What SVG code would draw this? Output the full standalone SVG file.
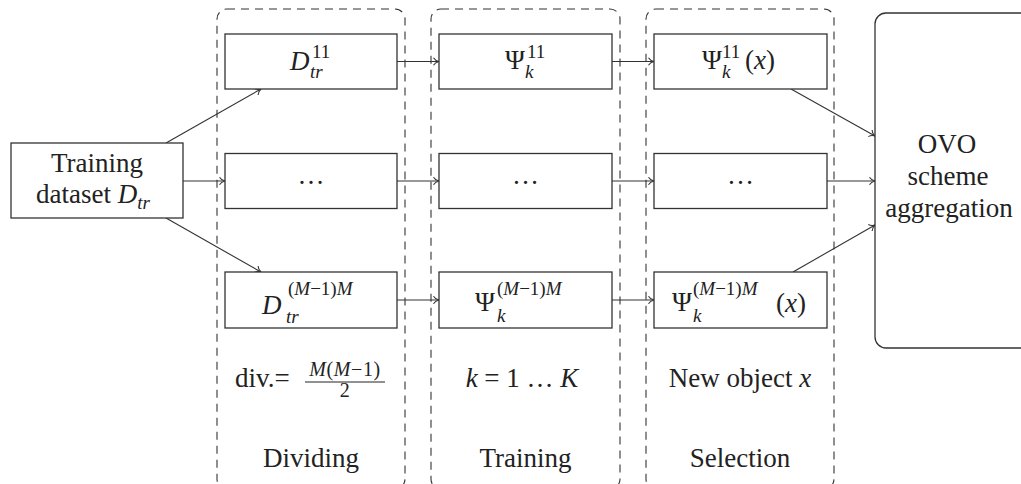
<svg xmlns="http://www.w3.org/2000/svg" width="1021" height="484" viewBox="0 0 1021 484">
<style>
  .box{fill:#fff;stroke:#333;stroke-width:1.3}
  .grp{fill:none;stroke:#333;stroke-width:1.1;stroke-dasharray:8 6}
  .t{font-family:'Liberation Serif','DejaVu Serif',serif;font-size:27px;fill:#222}
  .s{font-size:19px}
  .f{font-size:20px;letter-spacing:0.6px}
  .i{font-style:italic}
  .c{text-anchor:middle}
  .ln{fill:none;stroke:#333;stroke-width:1.1;marker-end:url(#arr)}
</style>
<defs>
  <marker id="arr" markerUnits="userSpaceOnUse" markerWidth="12" markerHeight="12" viewBox="-7 -6 8 12" refX="0" refY="0" orient="auto">
    <path d="M-5.5,-3.8 C-4.2,-1.6 -1.8,-0.4 0,0 C-1.8,0.4 -4.2,1.6 -5.5,3.8" fill="none" stroke="#333" stroke-width="1.1"/>
  </marker>
</defs>

<g id="groups">
  <rect id="group-dividing" class="grp" x="217" y="9" width="188" height="480" rx="10"/>
  <rect id="group-training" class="grp" x="431" y="9" width="189" height="480" rx="10"/>
  <rect id="group-selection" class="grp" x="646" y="9" width="188" height="480" rx="10"/>
</g>

<g id="connectors">
  <line class="ln" x1="166" y1="143" x2="261" y2="89"/>
  <line class="ln" x1="183" y1="181" x2="225" y2="181"/>
  <line class="ln" x1="166" y1="218" x2="261" y2="272"/>
  <line class="ln" x1="397" y1="61.5" x2="439" y2="61.5"/>
  <line class="ln" x1="397" y1="181" x2="439" y2="181"/>
  <line class="ln" x1="397" y1="300" x2="439" y2="300"/>
  <line class="ln" x1="612" y1="61.5" x2="654" y2="61.5"/>
  <line class="ln" x1="612" y1="181" x2="654" y2="181"/>
  <line class="ln" x1="612" y1="300" x2="654" y2="300"/>
  <line class="ln" x1="791" y1="89" x2="875" y2="136"/>
  <line class="ln" x1="827" y1="181" x2="875" y2="181"/>
  <line class="ln" x1="793" y1="272" x2="875" y2="225"/>
</g>

<g id="node-train">
  <rect class="box" x="11" y="143" width="172" height="75"/>
  <text class="t c" x="97" y="172">Training</text>
  <text class="t" x="36" y="203">dataset <tspan class="i">D</tspan><tspan class="s i" dy="6">tr</tspan></text>
</g>

<g id="node-d11">
  <rect class="box" x="225" y="34" width="172" height="55"/>
  <text class="t i" x="290" y="70">D</text>
  <text class="t s" x="312" y="58">11</text>
  <text class="t s i" x="310" y="78">tr</text>
</g>
<g id="node-d-dots">
  <rect class="box" x="225" y="153.5" width="172" height="55"/>
  <text class="t c" x="311" y="184">…</text>
</g>
<g id="node-dm">
  <rect class="box" x="225" y="272" width="172" height="56"/>
  <text class="t i" x="262" y="314">D</text>
  <text class="t s" x="288" y="295">(<tspan class="i">M</tspan>−1)<tspan class="i">M</tspan></text>
  <text class="t s i" x="286" y="323">tr</text>
</g>

<g id="node-p11">
  <rect class="box" x="439" y="34" width="173" height="55"/>
  <text class="t" x="505" y="69">Ψ</text>
  <text class="t s" x="527" y="58">11</text>
  <text class="t s i" x="525" y="78">k</text>
</g>
<g id="node-p-dots">
  <rect class="box" x="439" y="153.5" width="173" height="55"/>
  <text class="t c" x="525.5" y="184">…</text>
</g>
<g id="node-pm">
  <rect class="box" x="439" y="272" width="173" height="56"/>
  <text class="t" x="475" y="311">Ψ</text>
  <text class="t s" x="497" y="295">(<tspan class="i">M</tspan>−1)<tspan class="i">M</tspan></text>
  <text class="t s i" x="497" y="322">k</text>
</g>

<g id="node-s11">
  <rect class="box" x="654" y="34" width="173" height="55"/>
  <text class="t" x="702" y="69">Ψ</text>
  <text class="t s" x="722" y="58">11</text>
  <text class="t s i" x="722" y="78">k</text>
  <text class="t" x="745" y="69">(<tspan class="i">x</tspan>)</text>
</g>
<g id="node-s-dots">
  <rect class="box" x="654" y="153.5" width="173" height="55"/>
  <text class="t c" x="740.5" y="184">…</text>
</g>
<g id="node-sm">
  <rect class="box" x="654" y="272" width="173" height="56"/>
  <text class="t" x="672" y="311">Ψ</text>
  <text class="t s" x="693" y="295">(<tspan class="i">M</tspan>−1)<tspan class="i">M</tspan></text>
  <text class="t s i" x="693" y="322">k</text>
  <text class="t" x="776" y="312" font-size="29">(<tspan class="i">x</tspan>)</text>
</g>

<g id="node-ovo">
  <rect class="box" x="875" y="13" width="175" height="335" rx="11"/>
  <text class="t c" x="947" y="153">OVO</text>
  <text class="t c" x="948" y="185">scheme</text>
  <text class="t c" x="949" y="217" font-size="28">aggregation</text>
</g>

<g id="labels">
  <text class="t" x="235" y="387">div.=</text>
  <text class="t f c" x="345" y="376"><tspan class="i">M</tspan>(<tspan class="i">M</tspan>−1)</text>
  <line x1="305" y1="382" x2="385" y2="382" stroke="#222" stroke-width="1"/>
  <text class="t f c" x="345" y="397">2</text>
  <text class="t c" x="522" y="387"><tspan class="i">k</tspan> = 1 … <tspan class="i">K</tspan></text>
  <text class="t c" x="740" y="387">New object <tspan class="i">x</tspan></text>
  <text class="t c" x="311" y="467">Dividing</text>
  <text class="t c" x="525.5" y="467">Training</text>
  <text class="t c" x="740" y="467">Selection</text>
</g>
</svg>
